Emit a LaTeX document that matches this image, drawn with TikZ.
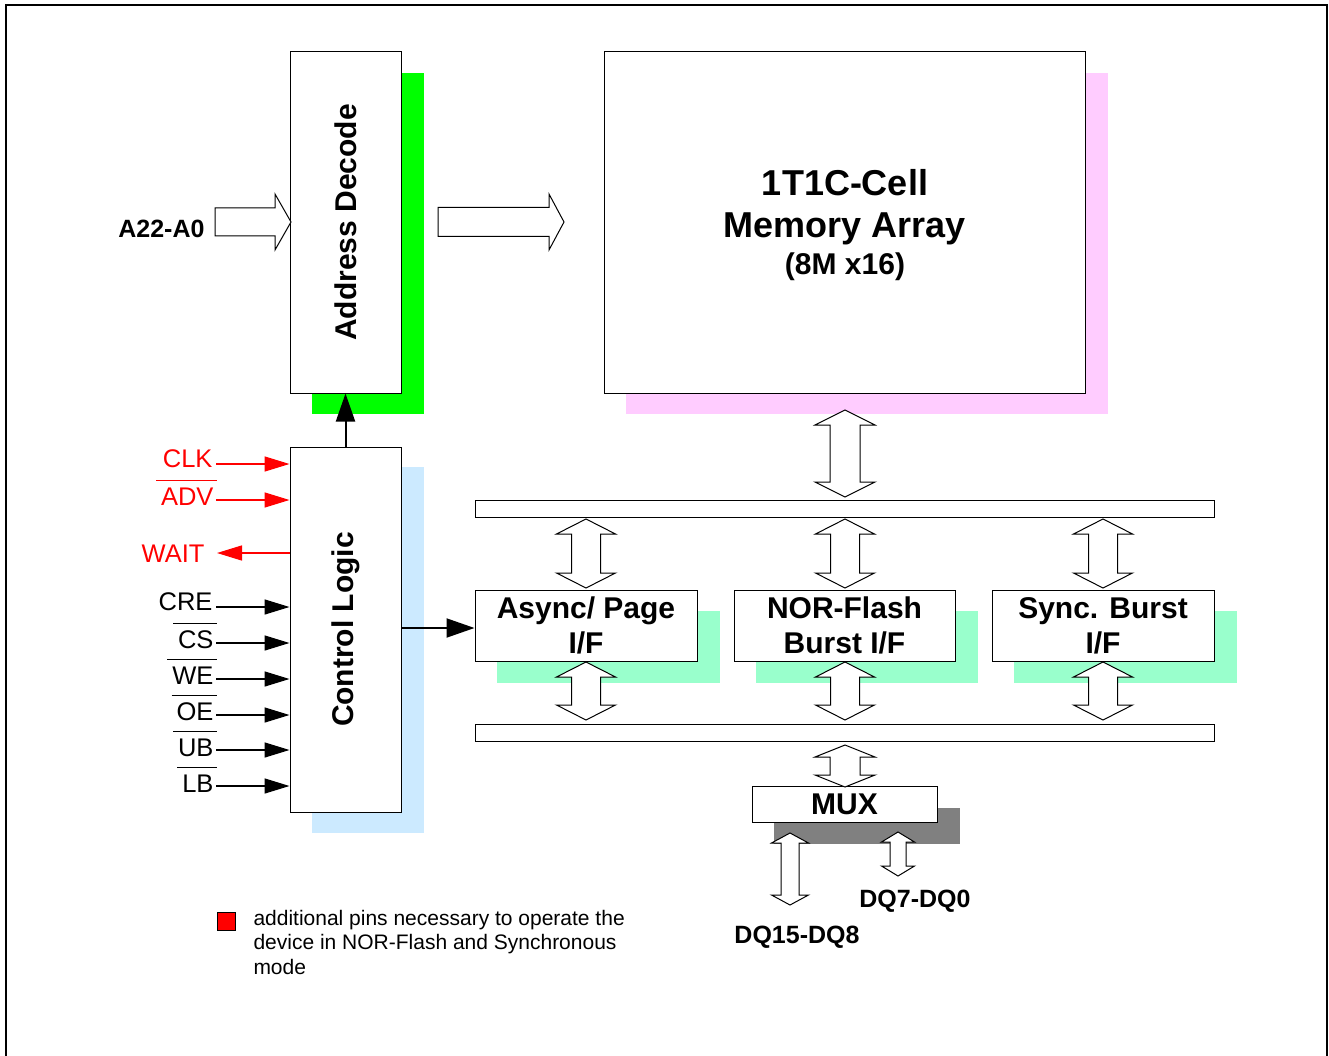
\documentclass[tikz,border=0pt]{standalone}
\usepackage{fontspec}
\setmainfont{Liberation Sans}
\usetikzlibrary{arrows.meta}
\definecolor{shgreen}{RGB}{0,255,0}
\definecolor{shpink}{RGB}{255,204,255}
\definecolor{shblue}{RGB}{204,234,255}
\definecolor{shmint}{RGB}{153,255,204}
\definecolor{shgray}{RGB}{128,128,128}
\definecolor{pinred}{RGB}{255,0,0}
\newcommand\ovl[1]{\vbox{\hrule height 1.2pt\kern 6pt\hbox{\kern5pt#1\kern3pt}}}
\newcommand\dblv[6]{% cx, ytop, ybot, headhalf, bodyhalf, headlen
  \draw[blockarrow] (#1,#2) -- (#1+#4,#2+#6) -- (#1+#5,#2+#6) -- (#1+#5,#3-#6) -- (#1+#4,#3-#6) -- (#1,#3)
    -- (#1-#4,#3-#6) -- (#1-#5,#3-#6) -- (#1-#5,#2+#6) -- (#1-#4,#2+#6) -- cycle;}
\newcommand\singr[6]{% xleft, xtip, yc, headhalf, bodyhalf, headlen
  \draw[blockarrow] (#1,#3-#5) -- (#2-#6,#3-#5) -- (#2-#6,#3-#4) -- (#2,#3) -- (#2-#6,#3+#4)
    -- (#2-#6,#3+#5) -- (#1,#3+#5) -- cycle;}
\begin{document}
\begin{tikzpicture}[x=1pt,y=-1pt,line width=1pt,
  box/.style={draw=black,fill=white,inner sep=0pt,line width=1pt,align=center,
    font=\fontsize{30}{35}\selectfont\bfseries},
  blockarrow/.style={draw=black,fill=white,line width=1pt,line join=miter},
  pinlab/.style={inner sep=0pt,anchor=base east,font=\fontsize{25.5}{30}\selectfont},
  boldlab/.style={inner sep=0pt,font=\fontsize{25}{30}\selectfont\bfseries},
  pinr/.style={draw=pinred,line width=1.5pt,-{Triangle[length=25pt,width=15pt]}},
  pinb/.style={draw=black,line width=1.5pt,-{Triangle[length=25pt,width=15pt]}},
  ctrlarrow/.style={draw=black,line width=2pt,-{Triangle[length=28pt,width=19pt]}}]
\useasboundingbox (0,0) rectangle (1329,1056);
% outer frame
\draw[line width=1.5pt] (6,1056) -- (6,5) -- (1327,5) -- (1327,1056);
% shadows
\fill[shgreen] (312,73) rectangle (424,414);
\fill[shpink] (626,73) rectangle (1108,414);
\fill[shblue] (312,467) rectangle (424,833);
\fill[shmint] (497,611) rectangle (720,683);
\fill[shmint] (756,611) rectangle (978,683);
\fill[shmint] (1014,611) rectangle (1237,683);
\fill[shgray] (774,808) rectangle (960,844);
% boxes
\node[box,rotate=90,minimum width=341pt,minimum height=111pt] (addr) at (345.5,222.5) {Address Decode};
\node[box,minimum width=481pt,minimum height=341pt] (mem) at (844.5,222.5) {};
\node[inner sep=0pt,align=center,anchor=base,font=\fontsize{36}{42}\selectfont\bfseries] (memtext) at (845,275)
  {1T1C-Cell\\Memory Array\\[-5pt]{\fontsize{30}{30}\selectfont (8M x16)}};
\node[box,rotate=90,minimum width=365pt,minimum height=111pt] (ctrl) at (345.5,629.5) {Control Logic};
\node[box,minimum width=739pt,minimum height=17pt] (bus1) at (844.5,508.5) {};
\node[box,minimum width=739pt,minimum height=17pt] (bus2) at (844.5,732.5) {};
\node[box,minimum width=222pt,minimum height=71pt] (async) at (586,625.5) {Async/ Page\\I/F};
\node[box,minimum width=221pt,minimum height=71pt] (nor) at (844.5,625.5) {NOR-Flash\\Burst I/F};
\node[box,minimum width=222pt,minimum height=71pt] (sync) at (1103,625.5) {Sync. Burst\\I/F};
\node[box,minimum width=185pt,minimum height=36pt] (mux) at (844.5,804) {MUX};
% block arrows
\singr{215}{291}{222}{28}{14}{16}
\singr{438}{564}{222}{28}{14.5}{15}
\dblv{845}{410}{497}{30}{15}{15}
\dblv{586}{519}{588}{29.5}{14.5}{15}
\dblv{845}{519}{588}{29.5}{14.5}{15}
\dblv{1103}{519}{588}{29.5}{14.5}{15}
\dblv{586}{662}{720}{29.5}{14.5}{15}
\dblv{845}{662}{720}{29.5}{14.5}{15}
\dblv{1103}{662}{720}{29.5}{14.5}{15}
\dblv{845}{745}{787}{30}{15}{12}
\dblv{790}{833}{905}{18.5}{9}{10}
\dblv{898}{832}{876}{16.5}{8}{10}
% labels
\node[boldlab,anchor=base east] (a22) at (205,238) {A22-A0};
\node[boldlab,anchor=base] (dq7) at (915,907) {DQ7-DQ0};
\node[boldlab,anchor=base] (dq15) at (797,943) {DQ15-DQ8};
% control arrows
\draw[ctrlarrow] (ctrl.east) -- (addr.west);
\draw[ctrlarrow] (ctrl.south |- 0,628) -- (async.west |- 0,628);
% pins
\node[pinlab,text=pinred] (clk) at (213,467) {CLK};
\node[pinlab,text=pinred] (adv) at (217,505) {\ovl{ADV}};
\node[pinlab,text=pinred] (wait) at (205,562) {WAIT};
\node[pinlab] (cre) at (213,610) {CRE};
\node[pinlab] (cs) at (217,648) {\ovl{CS}};
\node[pinlab] (we) at (217,684) {\ovl{WE}};
\node[pinlab] (oe) at (217,720) {\ovl{OE}};
\node[pinlab] (ub) at (217,756) {\ovl{UB}};
\node[pinlab] (lb) at (217,792) {\ovl{LB}};
\draw[pinr] (216,464) -- (ctrl.north |- 0,464);
\draw[pinr] (216,500) -- (ctrl.north |- 0,500);
\draw[pinr] (ctrl.north |- 0,553) -- (217,553);
\draw[pinb] (216,607) -- (ctrl.north |- 0,607);
\draw[pinb] (216,643) -- (ctrl.north |- 0,643);
\draw[pinb] (216,679) -- (ctrl.north |- 0,679);
\draw[pinb] (216,715) -- (ctrl.north |- 0,715);
\draw[pinb] (216,750) -- (ctrl.north |- 0,750);
\draw[pinb] (216,786) -- (ctrl.north |- 0,786);
% legend
\node[draw=black,fill=pinred,line width=0.8pt,minimum size=18pt,inner sep=0pt] (legbox) at (226,921) {};
\node[inner sep=0pt,anchor=base west,align=left,font=\fontsize{21}{24.5}\selectfont] (legtext) at (253,974)
  {additional pins necessary to operate the\\device in NOR-Flash and Synchronous\\mode};
\end{tikzpicture}
\end{document}
